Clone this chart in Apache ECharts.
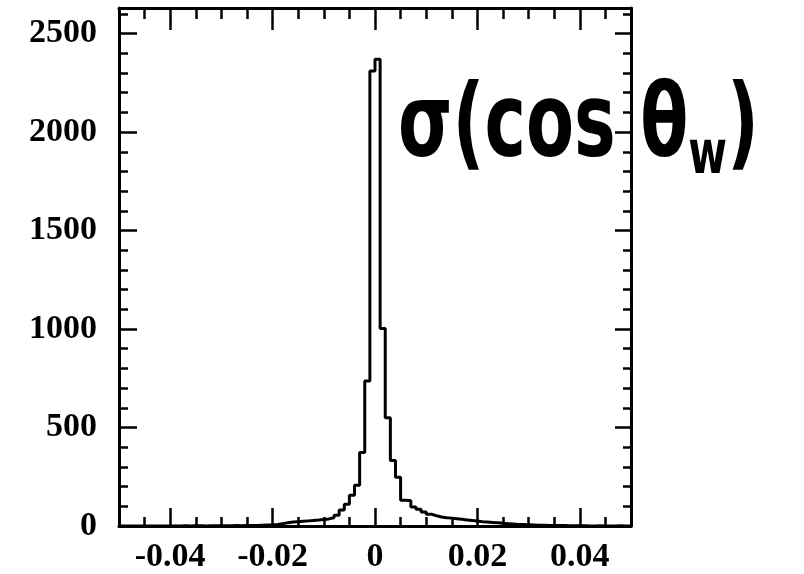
<!DOCTYPE html>
<html>
<head>
<meta charset="utf-8">
<script src="https://cdn.jsdelivr.net/npm/echarts@6/dist/echarts.min.js"></script>
<style>
html, body { margin: 0; background: #fff; }
#chart { width: 804px; height: 574px; }
</style>
</head>
<body>
<div id="chart"></div>
<script>
// histogram: 100 bins of width 0.001 starting at -0.05
const binStart = -0.05
const binWidth = 0.001
const counts = [
	0, 0, 0, 0, 0, 0, 0, 0, 0, 0,
	0, 0, 1, 0, 1, 1, 0, 1, 1, 1,
	1, 1, 2, 1, 2, 2, 3, 4, 5, 6,
	8, 12, 16, 20, 22, 24, 26, 28, 30, 33,
	36, 42, 55, 81, 111, 156, 207, 373, 736, 2310,
	2370, 1003, 549, 333, 247, 131, 128, 96, 85, 71,
	60, 52, 46, 42, 40, 37, 34, 31, 28, 25,
	22, 20, 18, 16, 14, 12, 10, 8, 7, 6,
	5, 4, 4, 3, 3, 2, 2, 1, 1, 1,
	1, 0, 0, 1, 0, 0, 0, 1, 0, 0,
]

const xMin = -0.05
const xMax = 0.05
const xMajorTicks = [-0.04, -0.02, 0, 0.02, 0.04]
const xMinorStep = 0.005
const yMax = 2630
const yMajorStep = 500
const yMinorStep = 100

const labelFont = { color: '#000', fontFamily: '"Liberation Serif", "DejaVu Serif", serif', fontWeight: 'bold', fontSize: 34 }
const black = (w) => ({ color: '#000', width: w })

// outline points at the bin edges, drawn as a step line
const edges = counts.map((c, i) => [+(binStart + i * binWidth).toFixed(4), c])
edges.push([+(binStart + counts.length * binWidth).toFixed(4), counts[counts.length - 1]])

function xPart(position, opts) {
	return {
		type: 'value', position, min: xMin, max: xMax,
		axisLine: { show: opts.line, onZero: false, lineStyle: black(3) },
		axisTick: Object.assign({ show: true, inside: true, length: opts.len, lineStyle: black(2.5) }, opts.tick),
		axisLabel: opts.label || { show: false },
		splitLine: { show: false },
		interval: opts.interval,
	}
}

function yPart(position, opts) {
	return {
		type: 'value', position, min: 0, max: yMax, interval: opts.interval,
		axisLine: { show: opts.line, onZero: false, lineStyle: black(3) },
		axisTick: { show: true, inside: true, length: opts.len, lineStyle: black(2.5) },
		axisLabel: opts.label || { show: false },
		splitLine: { show: false },
	}
}

const chart = echarts.init(document.getElementById('chart'), null, { renderer: 'canvas' })
chart.setOption({
	animation: false,
	backgroundColor: '#fff',
	grid: { left: 119, right: 173, top: 8, bottom: 45 },
	xAxis: [
		xPart('bottom', { line: true, len: 9, interval: xMinorStep }),
		xPart('bottom', {
			line: false, len: 18, tick: { customValues: xMajorTicks },
			label: Object.assign({ show: true, margin: 14, customValues: xMajorTicks }, labelFont),
		}),
		xPart('top', { line: true, len: 11, interval: xMinorStep }),
		xPart('top', { line: false, len: 22, tick: { customValues: xMajorTicks } }),
	],
	yAxis: [
		yPart('left', {
			line: true, len: 18, interval: yMajorStep,
			label: Object.assign({ show: true, margin: 22, showMaxLabel: false, formatter: (v) => String(v) }, labelFont),
		}),
		yPart('left', { line: false, len: 9, interval: yMinorStep }),
		yPart('right', { line: true, len: 16, interval: yMajorStep }),
		yPart('right', { line: false, len: 8, interval: yMinorStep }),
	],
	series: [
		{
			type: 'line',
			xAxisIndex: 0,
			yAxisIndex: 0,
			step: 'end',
			symbol: 'none',
			data: edges,
			lineStyle: black(3),
		},
	],
	graphic: [
		{
			type: 'text',
			x: 398,
			y: 72,
			scaleY: 1.45,
			style: {
				text: '{a|σ(cos θ}{s|w}{a|)}',
				rich: {
					a: { fontSize: 70, fontWeight: 'bold', fontFamily: '"DejaVu Sans"', fill: '#000' },
					s: { fontSize: 42, fontWeight: 'bold', fontFamily: '"DejaVu Sans"', fill: '#000', verticalAlign: 'bottom', padding: [38, 0, 0, 0] },
				},
			},
		},
	],
})
</script>
</body>
</html>
